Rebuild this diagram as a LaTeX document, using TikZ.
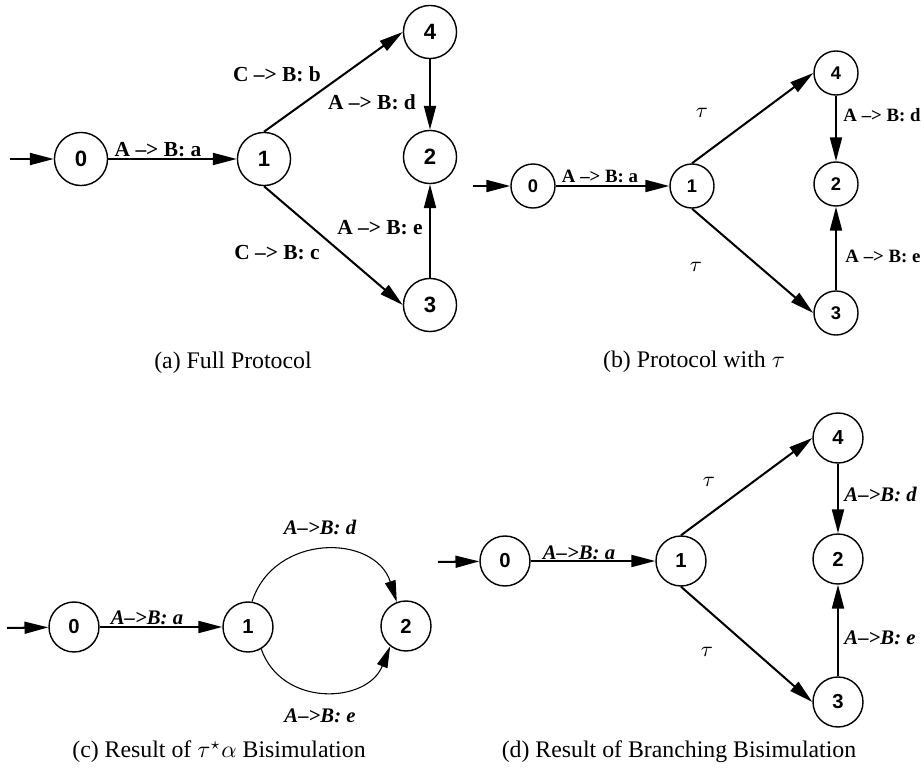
\documentclass[tikz,border=0pt]{standalone}
\usepackage{fontspec}
\setmainfont{Liberation Serif}
\setsansfont{Liberation Sans}
\usetikzlibrary{arrows.meta}
\begin{document}
\begin{tikzpicture}[x=0.42pt,y=-0.42pt,
  st/.style={circle,draw,line width=0.6pt,inner sep=0pt},
  sta/.style={st,minimum size=22.3pt,font=\sffamily\bfseries\fontsize{9.3}{9.3}\selectfont},
  stb/.style={st,minimum size=18.5pt,font=\sffamily\bfseries\fontsize{7.7}{7.7}\selectfont},
  stc/.style={st,minimum size=21pt,font=\sffamily\bfseries\fontsize{8.5}{8.5}\selectfont},
  edge/.style={line width=0.85pt,-{Triangle[length=10pt,width=5pt]}},
  arcedge/.style={line width=0.45pt,-{Triangle[length=9pt,width=4.6pt]}},
  lba/.style={font=\bfseries\fontsize{9}{9}\selectfont,inner sep=0pt},
  lbb/.style={font=\bfseries\fontsize{7.9}{7.9}\selectfont,inner sep=0pt},
  lbc/.style={font=\bfseries\itshape\fontsize{8.7}{8.7}\selectfont,inner sep=0pt},
  tau/.style={font=\fontsize{9}{9}\selectfont,inner sep=0pt},
  captext/.style={font=\fontsize{10}{12}\selectfont,inner sep=0pt}]
\useasboundingbox (0,0) rectangle (924,769);

% ---------- (a) ----------
\node[sta] (a0) at (81,159) {0};
\node[sta] (a1) at (264,159) {1};
\node[sta] (a4) at (430,32) {4};
\node[sta] (a2) at (430,157) {2};
\node[sta] (a3) at (430,305) {3};
\coordinate (ai) at (10,159);
\draw[edge] (ai) -- (a0);
\draw[edge] (a0) -- (a1);
\draw[edge] (a1.north) -- (a4.west);
\draw[edge] (a1.south) -- (a3.west);
\draw[edge] (a4) -- (a2);
\draw[edge] (a3) -- (a2);
\node[lba] (la01) at (158,150) {A –> B: a};
\node[lba] (la14) at (277,74) {C –> B: b};
\node[lba] (la42) at (372,102) {A –> B: d};
\node[lba] (la32) at (380,228) {A –> B: e};
\node[lba] (la13) at (277,253) {C –> B: c};
\node[captext] (capa) at (233,363) {(a) Full Protocol};

% ---------- (b) ----------
\node[stb] (b0) at (533,186) {0};
\node[stb] (b1) at (692,186) {1};
\node[stb] (b4) at (836,73) {4};
\node[stb] (b2) at (836,184) {2};
\node[stb] (b3) at (836,313) {3};
\coordinate (bi) at (473,186);
\draw[edge] (bi) -- (b0);
\draw[edge] (b0) -- (b1);
\draw[edge] (b1.north) -- (b4.west);
\draw[edge] (b1.south) -- (b3.west);
\draw[edge] (b4) -- (b2);
\draw[edge] (b3) -- (b2);
\node[lbb] (lb01) at (600,176) {A –> B: a};
\node[tau] (lb14) at (702,113) {$\tau$};
\node[tau] (lb13) at (696,267) {$\tau$};
\node[lbb,anchor=west] (lb42) at (843,115) {A –> B: d};
\node[lbb,anchor=west] (lb32) at (845,256) {A –> B: e};
\node[captext] (capb) at (694,362) {(b) Protocol with $\tau$};

% ---------- (c) ----------
\node[stc] (c0) at (74,627) {0};
\node[stc] (c1) at (248,627) {1};
\node[stc] (c2) at (406,626) {2};
\coordinate (ci) at (7,628);
\draw[edge] (ci) -- (c0);
\draw[edge] (c0) -- (c1);
\draw[arcedge] (c1.81) .. controls +(22,-68.5) and +(-22,-68.5) .. (c2.111);
\draw[arcedge] (c1.-59) .. controls +(20.6,58.6) and +(-23,57.6) .. (c2.-128);
\node[lbc] (lc01) at (147,618) {A–>B: a};
\node[lbc] (lc12u) at (320,527) {A–>B: d};
\node[lbc] (lc12d) at (320,716) {A–>B: e};
\node[captext] (capc) at (219,752) {(c) Result of $\tau^\star\alpha$ Bisimulation};

% ---------- (d) ----------
\node[stc] (d0) at (505,561) {0};
\node[stc] (d1) at (681,561) {1};
\node[stc] (d4) at (838,438) {4};
\node[stc] (d2) at (838,559) {2};
\node[stc] (d3) at (838,702) {3};
\coordinate (di) at (438,562);
\draw[edge] (di) -- (d0);
\draw[edge] (d0) -- (d1);
\draw[edge] (d1.north) -- (d4.west);
\draw[edge] (d1.south) -- (d3.west);
\draw[edge] (d4) -- (d2);
\draw[edge] (d3) -- (d2);
\node[lbc] (ld01) at (579,553) {A–>B: a};
\node[tau] (ld14) at (709,482) {$\tau$};
\node[tau] (ld13) at (707,652) {$\tau$};
\node[lbc,anchor=west] (ld42) at (844,494) {A–>B: d};
\node[lbc,anchor=west] (ld32) at (844,638) {A–>B: e};
\node[captext] (capd) at (679,752) {(d) Result of Branching Bisimulation};
\end{tikzpicture}
\end{document}
